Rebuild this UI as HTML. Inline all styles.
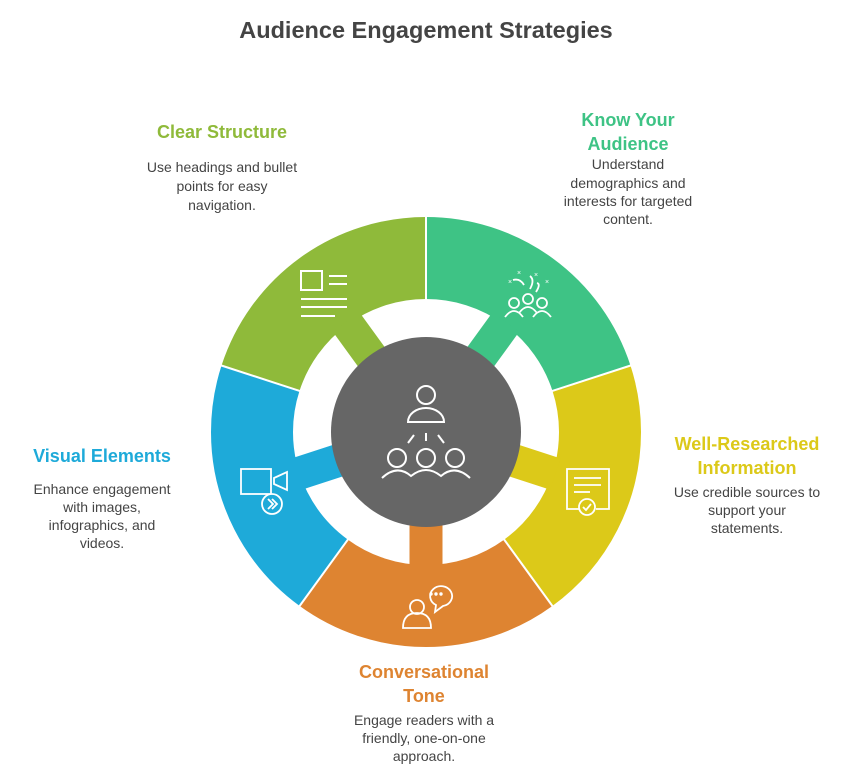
<!DOCTYPE html>
<html><head><meta charset="utf-8"><style>
html,body{margin:0;padding:0;background:#fff;}
svg{display:block;}
text{font-family:"Liberation Sans",sans-serif;}
.h{font-weight:bold;font-size:18px;text-anchor:middle;}
.d{font-size:14px;fill:#444;text-anchor:middle;}
</style></head><body>
<svg width="858" height="773" viewBox="0 0 858 773" xmlns="http://www.w3.org/2000/svg">
<text x="426" y="38" text-anchor="middle" font-size="23.5" font-weight="bold" fill="#444">Audience Engagement Strategies</text>

<g transform="translate(426,432)">
  <g transform="rotate(-90)" fill="none" stroke-width="82">
    <circle r="174" stroke="#3EC385" stroke-dasharray="218.66 874.64" stroke-dashoffset="0"/>
    <circle r="174" stroke="#DCC919" stroke-dasharray="218.66 874.64" stroke-dashoffset="-218.66"/>
    <circle r="174" stroke="#DE8431" stroke-dasharray="218.66 874.64" stroke-dashoffset="-437.32"/>
    <circle r="174" stroke="#1EAAD9" stroke-dasharray="218.66 874.64" stroke-dashoffset="-655.98"/>
    <circle r="174" stroke="#8FBA3A" stroke-dasharray="218.66 874.64" stroke-dashoffset="-874.64"/>
  </g>
  <g stroke="#fff" stroke-width="2">
    <line x1="0" y1="-130" x2="0" y2="-218" transform="rotate(0)"/>
    <line x1="0" y1="-130" x2="0" y2="-218" transform="rotate(72)"/>
    <line x1="0" y1="-130" x2="0" y2="-218" transform="rotate(144)"/>
    <line x1="0" y1="-130" x2="0" y2="-218" transform="rotate(216)"/>
    <line x1="0" y1="-130" x2="0" y2="-218" transform="rotate(288)"/>
  </g>
  <rect x="-16.5" y="-136" width="33" height="46" fill="#3EC385" transform="rotate(36)"/>
  <rect x="-16.5" y="-136" width="33" height="46" fill="#DCC919" transform="rotate(108)"/>
  <rect x="-16.5" y="-136" width="33" height="46" fill="#DE8431" transform="rotate(180)"/>
  <rect x="-16.5" y="-136" width="33" height="46" fill="#1EAAD9" transform="rotate(252)"/>
  <rect x="-16.5" y="-136" width="33" height="46" fill="#8FBA3A" transform="rotate(324)"/>
  <circle r="95" fill="#666"/>
  <g fill="none" stroke="#fff" stroke-width="2">
    <circle cx="0" cy="-37" r="9"/>
    <path d="M-18,-10 A18,14 0 0 1 18,-10 Z"/>
    <line x1="-12" y1="3" x2="-18" y2="11"/><line x1="0" y1="1" x2="0" y2="9"/><line x1="12" y1="3" x2="18" y2="11"/>
    <circle cx="-29" cy="26" r="9"/><circle cx="0" cy="26" r="9"/><circle cx="29" cy="26" r="9"/>
    <path d="M-44,46 Q-29,32 -15,44 Q0,32 15,44 Q29,32 44,46"/>
  </g>
</g>

<g fill="none" stroke="#fff" stroke-width="2">
  <rect x="301" y="271" width="21" height="19"/>
  <line x1="329" y1="276" x2="347" y2="276"/><line x1="329" y1="284" x2="347" y2="284"/>
  <line x1="301" y1="299" x2="347" y2="299"/><line x1="301" y1="307" x2="347" y2="307"/><line x1="301" y1="316" x2="335" y2="316"/>
</g>
<g fill="none" stroke="#fff" stroke-width="1.8">
  <circle cx="514" cy="303" r="5"/><circle cx="528" cy="299" r="5"/><circle cx="542" cy="303" r="5"/>
  <path d="M505,317 Q514,305 523,317 M519,313 Q528,301 537,313 M533,317 Q542,305 551,317"/>
  <path d="M513,280 Q520,278 524,285 M530,276 Q535,280 530,289 M537,283 Q541,284 536,292"/>
  <text x="508" y="284" font-size="7" fill="#fff" stroke="none">×</text>
  <text x="517" y="275" font-size="7" fill="#fff" stroke="none">×</text>
  <text x="534" y="277" font-size="7" fill="#fff" stroke="none">×</text>
  <text x="545" y="284" font-size="7" fill="#fff" stroke="none">×</text>
</g>
<g fill="none" stroke="#fff" stroke-width="1.8">
  <path d="M579,509 L567,509 L567,469 L609,469 L609,509 L596,509"/>
  <line x1="574" y1="478" x2="601" y2="478"/><line x1="574" y1="485" x2="601" y2="485"/><line x1="574" y1="492" x2="590" y2="492"/>
  <circle cx="587" cy="507" r="8"/><path d="M583,507 L586,510 L591,504"/>
</g>
<g fill="none" stroke="#fff" stroke-width="1.8">
  <rect x="241" y="469" width="30" height="25"/>
  <path d="M274,478 L287,472 L287,490 L274,484 Z"/>
  <circle cx="272" cy="504" r="10" fill="#1EAAD9"/>
  <path d="M268,499 L273,504 L268,509 M272,499 L277,504 L272,509"/>
</g>
<g fill="none" stroke="#fff" stroke-width="1.8">
  <circle cx="417" cy="607" r="7"/>
  <path d="M403,628 Q403,613 417,613 Q431,613 431,628 Z"/>
  <path d="M435,612 L436,605 A11,10 0 1 1 443,606 Z"/>
  <circle cx="431" cy="594" r="0.8" fill="#fff"/><circle cx="436" cy="594" r="0.8" fill="#fff"/><circle cx="441" cy="594" r="0.8" fill="#fff"/>
</g>

<text class="h" x="222" y="138" fill="#8FBA3A">Clear Structure</text>
<text class="d" x="222" y="172">Use headings and bullet</text>
<text class="d" x="222" y="191">points for easy</text>
<text class="d" x="222" y="210">navigation.</text>

<text class="h" x="628" y="126" fill="#3EC385">Know Your</text>
<text class="h" x="628" y="150" fill="#3EC385">Audience</text>
<text class="d" x="628" y="169">Understand</text>
<text class="d" x="628" y="188">demographics and</text>
<text class="d" x="628" y="206">interests for targeted</text>
<text class="d" x="628" y="224">content.</text>

<text class="h" x="747" y="450" fill="#DCC919">Well-Researched</text>
<text class="h" x="747" y="474" fill="#DCC919">Information</text>
<text class="d" x="747" y="497">Use credible sources to</text>
<text class="d" x="747" y="515">support your</text>
<text class="d" x="747" y="533">statements.</text>

<text class="h" x="102" y="462" fill="#1EAAD9">Visual Elements</text>
<text class="d" x="102" y="494">Enhance engagement</text>
<text class="d" x="102" y="512">with images,</text>
<text class="d" x="102" y="530">infographics, and</text>
<text class="d" x="102" y="548">videos.</text>

<text class="h" x="424" y="678" fill="#DE8431">Conversational</text>
<text class="h" x="424" y="702" fill="#DE8431">Tone</text>
<text class="d" x="424" y="725">Engage readers with a</text>
<text class="d" x="424" y="743">friendly, one-on-one</text>
<text class="d" x="424" y="761">approach.</text>
</svg>
</body></html>
